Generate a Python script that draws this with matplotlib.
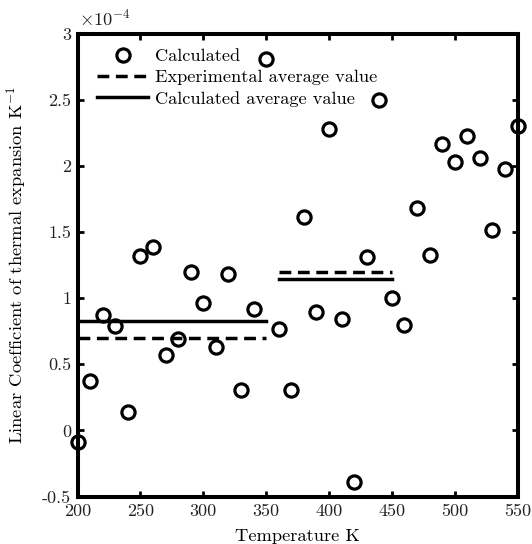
import matplotlib
matplotlib.use("Agg")
import matplotlib.pyplot as plt
from matplotlib.ticker import FixedLocator

plt.rcParams['font.family'] = 'serif'
plt.rcParams['font.serif'] = ['cmr10', 'DejaVu Serif']
plt.rcParams['mathtext.fontset'] = 'cm'
plt.rcParams['axes.unicode_minus'] = False
plt.rcParams['axes.formatter.use_mathtext'] = True

# Data (values in units of 1e-4 K^-1)
temperature = [200, 210, 220, 230, 240, 250, 260, 270, 280, 290, 300, 310, 320, 330,
               340, 350, 360, 370, 380, 390, 400, 410, 420, 430, 440, 450, 460, 470,
               480, 490, 500, 510, 520, 530, 540, 550]
calculated = [-0.087, 0.374, 0.871, 0.787, 0.137, 1.316, 1.387, 0.571, 0.689, 1.197,
              0.966, 0.629, 1.179, 0.305, 0.921, 2.808, 0.768, 0.303, 1.613, 0.895,
              2.279, 0.842, -0.392, 1.311, 2.497, 1.000, 0.795, 1.679, 1.329, 2.166,
              2.026, 2.229, 2.058, 1.511, 1.974, 2.300]
seg1_x = [200, 350]
seg2_x = [360, 450]
exp_avg = [0.700, 1.200]
calc_avg = [0.829, 1.142]

xticks = [200, 250, 300, 350, 400, 450, 500, 550]
yticks = [-0.5, 0, 0.5, 1, 1.5, 2, 2.5, 3]
ytick_labels = ['-0.5', '0', '0.5', '1', '1.5', '2', '2.5', '3']

fig = plt.figure(figsize=(5.32, 5.44), dpi=100)
ax = fig.add_axes([0.1457, 0.0873, 0.8271, 0.8511])

dash = (0, (3.4, 1.9))
ax.plot(temperature, calculated, linestyle='none', marker='o', markersize=9.5,
        markerfacecolor='none', markeredgecolor='black', markeredgewidth=2.3,
        label='Calculated', clip_on=False, zorder=5)
ax.plot(seg1_x, [exp_avg[0]] * 2, color='black', linestyle=dash,
        linewidth=2.5, label='Experimental average value')
ax.plot(seg1_x, [calc_avg[0]] * 2, color='black', linestyle='-', linewidth=2.5,
        label='Calculated average value')
ax.plot(seg2_x, [exp_avg[1]] * 2, color='black', linestyle=dash, linewidth=2.5)
ax.plot(seg2_x, [calc_avg[1]] * 2, color='black', linestyle='-', linewidth=2.5)

ax.set_xlim(200, 550)
ax.set_ylim(-0.5, 3)
ax.xaxis.set_major_locator(FixedLocator(xticks))
ax.yaxis.set_major_locator(FixedLocator(yticks))
ax.set_yticklabels(ytick_labels)
ax.set_xticklabels([str(t) for t in xticks])

for s in ax.spines.values():
    s.set_linewidth(2.9)
ax.tick_params(direction='in', length=4.5, width=2, top=True, right=True,
               labelsize=13, colors='black', labelcolor='#222222')
ax.tick_params(axis='y', pad=4.5)
ax.tick_params(axis='x', pad=5)

ax.set_xlabel('Temperature K', fontsize=13.3)
ax.xaxis.set_label_coords(0.5, -0.07)
ax.set_ylabel(r'Linear Coefficient of thermal expansion K$^{-1}$', fontsize=13.3)
ax.yaxis.set_label_coords(-0.113, 0.5)

fig.text(79 / 532, 1 - 18 / 544, r'$\times 10^{-4}$', fontsize=13.3,
         ha='left', va='center', color='#222222')

leg = ax.legend(loc='upper left', frameon=False, fontsize=13.2, handlelength=2.8,
                handletextpad=0.38, labelspacing=0.3, borderaxespad=0, borderpad=0,
                bbox_to_anchor=(0.0443, 0.968))

fig.savefig('out.png', dpi=100)
